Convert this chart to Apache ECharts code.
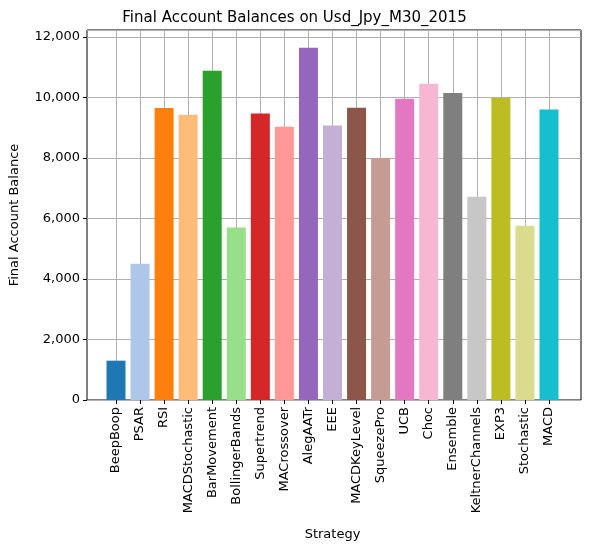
<!DOCTYPE html>
<html><head><meta charset="utf-8">
<script src="https://cdn.jsdelivr.net/npm/echarts@6/dist/echarts.min.js"></script>
<style>html,body{margin:0;padding:0;background:#fff}#c{width:589px;height:552px}</style>
</head><body><div id="c"></div>
<script>
var strategies = ['BeepBoop','PSAR','RSI','MACDStochastic','BarMovement','BollingerBands','Supertrend','MACrossover','AlegAATr','EEE','MACDKeyLevel','SqueezePro','UCB','Choc','Ensemble','KeltnerChannels','EXP3','Stochastic','MACD'];
var balances = [1300,4500,9650,9430,10880,5700,9470,9030,11640,9070,9660,8000,9960,10450,10150,6720,9990,5760,9600];
var colors = ['#1f77b4','#aec7e8','#ff7f0e','#ffbb78','#2ca02c','#98df8a','#d62728','#ff9896','#9467bd','#c5b0d5','#8c564b','#c49c94','#e377c2','#f7b6d2','#7f7f7f','#c7c7c7','#bcbd22','#dbdb8d','#17becf'];

var chart = echarts.init(document.getElementById('c'));
var font = 'DejaVu Sans';
var yMax = 12230;
chart.setOption({
  animation: false,
  title: { text: 'Final Account Balances on Usd_Jpy_M30_2015', left: 'center', top: 6,
    textStyle: { fontFamily: font, fontSize: 15, fontWeight: 'normal', color: '#000' } },
  grid: [
    { left: 84, right: 8, top: 30, bottom: 152, show: true, borderColor: '#000', borderWidth: 1, backgroundColor: 'transparent' },
    { left: 116, right: 40, top: 30, bottom: 152 }
  ],
  xAxis: [
    { gridIndex: 0, type: 'value', min: 0, max: 1, show: false },
    { gridIndex: 1, type: 'category', data: strategies, boundaryGap: false,
      name: 'Strategy', nameLocation: 'middle', nameGap: 128,
      nameTextStyle: { fontFamily: font, fontSize: 13, color: '#000' },
      axisLine: { show: false },
      axisTick: { show: true, length: 4, lineStyle: { color: '#000' } },
      axisLabel: { rotate: 90, interval: 0, fontFamily: font, fontSize: 13, color: '#000', margin: 7 },
      splitLine: { show: true, lineStyle: { color: '#b0b0b0', width: 1 } } }
  ],
  yAxis: [
    { gridIndex: 0, type: 'value', min: 0, max: yMax, interval: 2000,
      name: 'Final Account Balance', nameLocation: 'middle', nameGap: 66,
      nameTextStyle: { fontFamily: font, fontSize: 13, color: '#000' },
      axisLine: { show: false },
      axisTick: { show: true, length: 4, lineStyle: { color: '#000' } },
      axisLabel: { showMaxLabel: false, fontFamily: font, fontSize: 13, color: '#000', margin: 7 },
      splitLine: { show: true, lineStyle: { color: '#b0b0b0', width: 1 } } },
    { gridIndex: 1, type: 'value', min: 0, max: yMax, show: false, splitLine: { show: false } }
  ],
  series: [{
    type: 'bar', xAxisIndex: 1, yAxisIndex: 1, barWidth: 19, z: 3,
    data: balances.map(function (v, i) { return { value: v, itemStyle: { color: colors[i] } }; })
  }]
});
</script></body></html>
